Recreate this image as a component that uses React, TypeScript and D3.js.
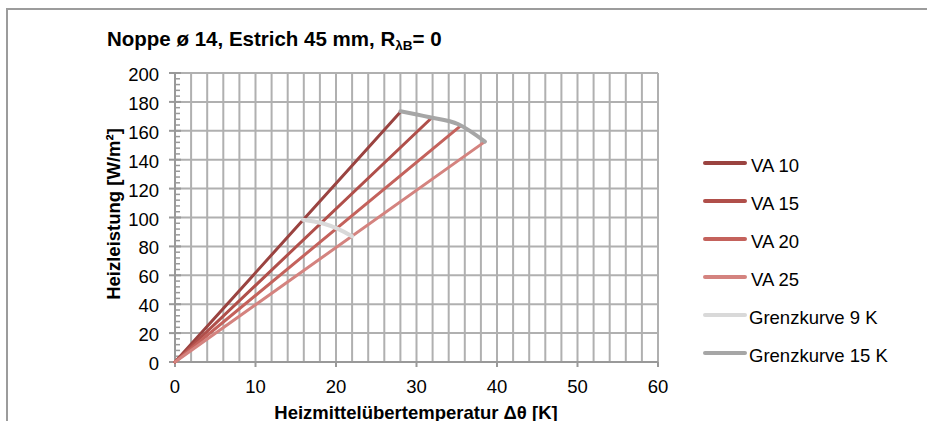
import React from "react";
import * as d3 from "d3";

const seriesNames = ["VA 10", "VA 15", "VA 20", "VA 25", "Grenzkurve 9 K", "Grenzkurve 15 K"];
const va10X = [0, 28];
const va10Y = [0, 173];
const va15X = [0, 31.7];
const va15Y = [0, 168];
const va20X = [0, 35.4];
const va20Y = [0, 163];
const va25X = [0, 38.5];
const va25Y = [0, 152.5];
const grenz9X = [15.9, 18.3, 20.3, 22];
const grenz9Y = [98.5, 96, 92, 87];
const grenz15X = [28, 31.5, 35.2, 38.5];
const grenz15Y = [173.5, 169.5, 164.5, 152.5];
const xTicks = [0, 10, 20, 30, 40, 50, 60];
const yTicks = [0, 20, 40, 60, 80, 100, 120, 140, 160, 180, 200];

const colors = ["#9a4340", "#b04f4a", "#c4625c", "#d4837f", "#d9d9d9", "#a6a6a6"];
const widths = [3, 3, 3, 3, 4, 4];

const FONT = "'Liberation Sans', Arial, sans-serif";

export default function App() {
  const x = d3.scaleLinear().domain([0, 60]).range([175, 658]);
  const y = d3.scaleLinear().domain([0, 200]).range([362, 73]);
  const seriesX = [va10X, va15X, va20X, va25X, grenz9X, grenz15X];
  const seriesY = [va10Y, va15Y, va20Y, va25Y, grenz9Y, grenz15Y];
  const line = d3
    .line<[number, number]>()
    .x((d) => x(d[0]))
    .y((d) => y(d[1]))
    .curve(d3.curveMonotoneX);

  const vGrid = d3.range(2, 61, 2);
  const hGrid = yTicks.slice(1);
  const yMinor = d3.range(0, 201, 4).filter((v) => v % 20 !== 0);

  return (
    <svg
      width={927}
      height={421}
      style={{ position: "absolute", left: 0, top: 0, background: "#fff" }}
      fontFamily={FONT}
    >
      <rect x={7} y={9} width={940} height={440} fill="#fff" stroke="#9c9c9c" strokeWidth={2} />
      {/* grid */}
      {vGrid.map((v) => (
        <line key={"v" + v} x1={x(v)} x2={x(v)} y1={y(200)} y2={y(0)} stroke="#b0b0b0" strokeWidth={2} />
      ))}
      {hGrid.map((v) => (
        <line key={"h" + v} x1={x(0)} x2={x(60)} y1={y(v)} y2={y(v)} stroke="#b0b0b0" strokeWidth={2} />
      ))}
      {/* axes */}
      <line x1={x(0)} x2={x(0)} y1={y(200)} y2={y(0)} stroke="#999" strokeWidth={2} />
      <line x1={x(0)} x2={x(60)} y1={y(0)} y2={y(0)} stroke="#999" strokeWidth={2} />
      {yTicks.map((v) => (
        <line key={"yt" + v} x1={x(0) - 6} x2={x(0) + 6} y1={y(v)} y2={y(v)} stroke="#999" strokeWidth={2} />
      ))}
      {yMinor.map((v) => (
        <line key={"ym" + v} x1={x(0)} x2={x(0) + 5} y1={y(v)} y2={y(v)} stroke="#999" strokeWidth={1.5} />
      ))}
      {xTicks.map((v) => (
        <line key={"xt" + v} x1={x(v)} x2={x(v)} y1={y(0)} y2={y(0) + 5} stroke="#999" strokeWidth={2} />
      ))}
      {/* tick labels */}
      {yTicks.map((v) => (
        <text key={"yl" + v} x={159} y={y(v) + 8} fontSize={18.5} textAnchor="end" fill="#000">
          {v}
        </text>
      ))}
      {xTicks.map((v) => (
        <text key={"xl" + v} x={x(v)} y={393} fontSize={18.5} textAnchor="middle" fill="#000">
          {v}
        </text>
      ))}
      {/* series */}
      {seriesX.map((xs, i) => (
        <path
          key={"s" + i}
          d={line(xs.map((v, j) => [v, seriesY[i][j]] as [number, number])) || ""}
          fill="none"
          stroke={colors[i]}
          strokeWidth={widths[i]}
          strokeLinejoin="round"
          strokeLinecap="round"
        />
      ))}
      {/* titles */}
      <text x={107} y={46} fontSize={20.5} fontWeight="bold" fill="#000">
        Noppe ø 14, Estrich 45 mm, R
        <tspan fontSize={13.5} dy={4}>λB</tspan>
        <tspan dy={-4}>= 0</tspan>
      </text>
      <text
        transform={`translate(120,214) rotate(-90)`}
        fontSize={18.5}
        fontWeight="bold"
        textAnchor="middle"
        fill="#000"
      >
        Heizleistung [W/m²]
      </text>
      <text x={416} y={419} fontSize={18.5} fontWeight="bold" textAnchor="middle" fill="#000">
        Heizmittelübertemperatur Δθ [K]
      </text>
      {/* legend */}
      {seriesNames.map((name, i) => (
        <g key={"lg" + i} transform={`translate(0, ${163 + i * 38})`}>
          <line x1={705} x2={745} y1={0} y2={0} stroke={colors[i]} strokeWidth={4} strokeLinecap="round" />
          <text x={i < 4 ? 751 : 749} y={9} fontSize={18.5} fill="#000">
            {name}
          </text>
        </g>
      ))}
    </svg>
  );
}
